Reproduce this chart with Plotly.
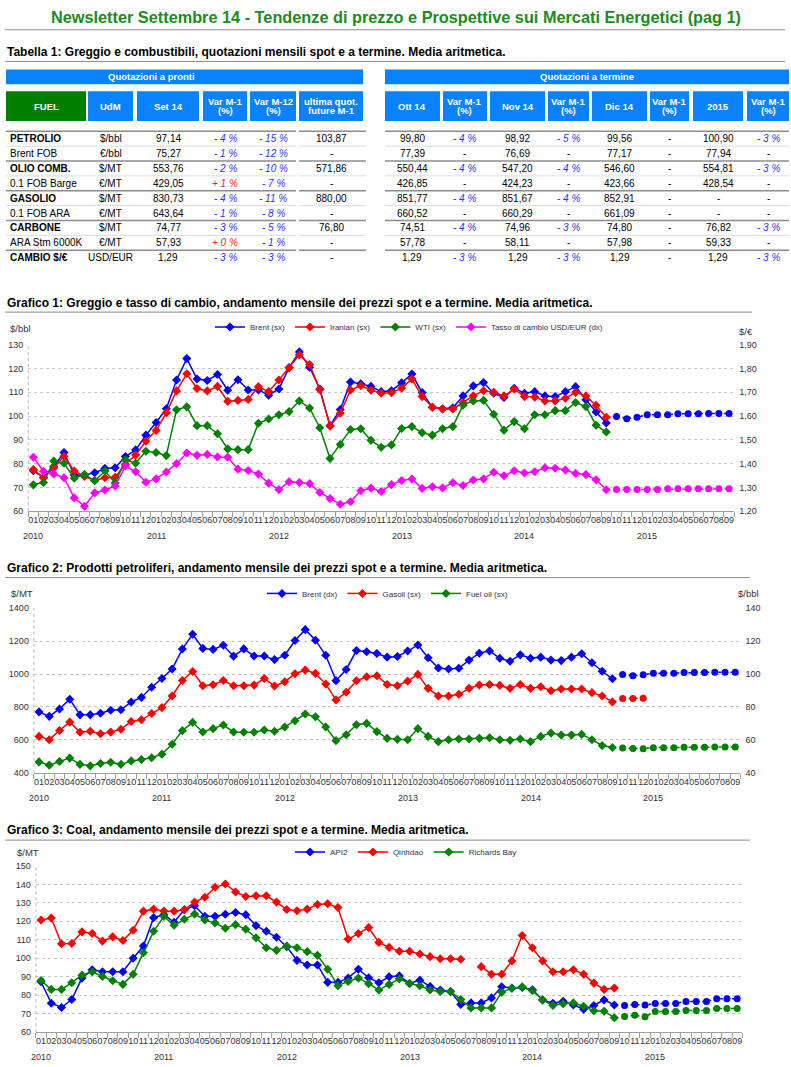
import plotly.graph_objects as go

# ---------------- data ----------------
months = [f"{y}-{m:02d}" for y in range(2010, 2016) for m in range(1, 13)][:69]
spot_months = months[:57]
fwd_months = months[57:]
month_labels = [m[5:] for m in months]
years = ["2010", "2011", "2012", "2013", "2014", "2015"]

# Grafico 1 ($/bbl, left) and exchange rate (right)
brent_spot = [77.0, 74.3, 78.8, 84.7, 75.2, 75.2, 76.2, 78.0, 78.3, 83.0, 85.8, 92.0,
              97.3, 103.1, 115.2, 124.2, 115.6, 115.0, 117.5, 110.9, 115.3, 111.0, 111.0, 108.8,
              111.4, 120.4, 127.0, 120.6, 111.4, 96.0, 102.8, 114.3, 113.6, 112.5, 110.3, 110.7,
              114.0, 117.7, 109.9, 103.7, 103.1, 103.5, 108.5, 112.7, 114.1, 109.6, 107.8, 111.7,
              109.6, 110.3, 108.5, 108.2, 110.3, 112.4, 106.9, 101.7, 97.14]
brent_fwd = [99.80, 98.92, 99.56, 100.55, 100.55, 100.55, 101.0, 101.0, 101.0, 101.15, 101.15, 101.15]
iranian_spot = [77.5, 74.0, 78.2, 83.1, 76.9, 74.6, 72.9, 74.1, 74.3, 79.8, 83.6, 89.4,
                94.0, 101.4, 110.6, 117.8, 111.6, 110.6, 112.5, 106.2, 106.6, 107.0, 112.4, 110.3,
                115.2, 120.3, 125.8, 121.7, 111.1, 95.8, 101.2, 111.0, 112.8, 110.9, 109.6, 109.8,
                111.7, 115.6, 108.2, 103.7, 103.0, 103.0, 105.7, 108.5, 110.7, 110.0, 108.5, 111.3,
                108.2, 108.0, 106.4, 106.4, 107.5, 110.0, 108.5, 104.5, 99.5]
wti_spot = [71.1, 72.1, 81.1, 80.2, 73.9, 75.4, 72.8, 76.9, 71.9, 81.6, 80.2, 85.2,
            84.7, 83.4, 102.7, 103.9, 96.0, 96.0, 92.6, 86.2, 85.9, 85.9, 97.0, 98.8,
            100.6, 101.9, 106.4, 103.4, 95.1, 82.2, 88.1, 94.4, 94.7, 89.8, 86.9, 87.9,
            94.8, 95.6, 93.0, 92.0, 94.7, 95.6, 104.6, 106.4, 106.6, 100.8, 94.1, 97.7,
            94.7, 100.6, 100.6, 102.3, 102.3, 105.7, 104.0, 96.2, 93.3]
usdeur_spot = [1.427, 1.368, 1.357, 1.341, 1.256, 1.221, 1.277, 1.289, 1.306, 1.390, 1.366, 1.322,
               1.336, 1.365, 1.400, 1.445, 1.435, 1.439, 1.428, 1.427, 1.377, 1.371, 1.356, 1.318,
               1.291, 1.324, 1.321, 1.316, 1.279, 1.253, 1.229, 1.240, 1.286, 1.297, 1.283, 1.312,
               1.329, 1.335, 1.296, 1.303, 1.298, 1.320, 1.308, 1.331, 1.336, 1.364, 1.349, 1.370,
               1.361, 1.366, 1.383, 1.381, 1.373, 1.359, 1.354, 1.332, 1.290]
usdeur_fwd = [1.291, 1.291, 1.291, 1.291, 1.291, 1.294, 1.294, 1.294, 1.294, 1.294, 1.294, 1.294]

# Grafico 2 ($/MT)
gasoil_spot = [621, 601, 657, 708, 646, 652, 637, 647, 664, 712, 722, 760,
               796, 867, 961, 1016, 929, 935, 961, 929, 929, 933, 973, 927,
               953, 1002, 1024, 1004, 939, 843, 889, 959, 984, 990, 937, 929,
               957, 998, 913, 867, 867, 877, 913, 933, 937, 931, 913, 937,
               913, 923, 899, 909, 909, 909, 887, 867, 830.73]
gasoil_fwd = [851.77, 851.67, 852.91]
fueloil_spot = [466, 446, 468, 489, 451, 442, 456, 464, 451, 472, 480, 491,
                513, 573, 656, 706, 648, 668, 690, 648, 646, 646, 660, 652,
                678, 716, 757, 740, 678, 595, 631, 692, 700, 650, 609, 603,
                601, 668, 621, 589, 601, 605, 605, 609, 613, 601, 597, 605,
                589, 621, 641, 629, 629, 633, 601, 565, 553.76]
fueloil_fwd = [550.44, 547.20, 546.60, 552.5, 552.5, 552.5, 555.0, 555.0, 555.0, 557.0, 557.0, 557.0]

# Grafico 3 coal ($/MT)
api2_spot = [87.3, 75.7, 73.4, 77.7, 89.3, 93.8, 92.7, 92.7, 92.7, 100.0, 106.6, 122.0,
             123.6, 119.5, 126.3, 128.4, 122.7, 122.7, 123.8, 124.8, 123.6, 117.7, 114.6, 111.4,
             106.3, 98.9, 96.4, 96.4, 87.0, 87.0, 89.3, 94.1, 89.5, 86.8, 90.0, 90.5,
             86.4, 88.2, 84.8, 82.9, 82.0, 75.0, 75.9, 75.9, 78.6, 84.6, 83.9, 84.2,
             83.0, 77.5, 75.7, 76.8, 74.8, 72.5, 74.5, 77.5, 74.77]
api2_fwd = [74.51, 74.96, 74.80, 75.6, 75.6, 75.6, 76.7, 76.7, 76.7, 78.1, 78.1, 78.1]
qinhdao_spot = [120.7, 121.8, 107.9, 108.0, 114.3, 113.4, 109.3, 111.6, 109.6, 115.2, 125.5, 126.6,
                125.5, 125.5, 126.3, 130.4, 133.0, 138.4, 140.2, 135.9, 133.4, 133.8, 133.8, 130.4,
                126.4, 125.7, 126.6, 129.1, 129.5, 127.5, 110.4, 113.4, 116.6, 108.6, 105.9, 103.8,
                103.8, 102.3, 100.9, 99.8, 99.8, 99.5, None, 95.5, 91.4, 91.4, 98.6, 112.3,
                105.7, 98.6, 92.7, 92.7, 93.8, 91.4, 86.6, 83.2, 83.9]
richards_spot = [88.0, 83.2, 83.2, 86.8, 90.9, 92.7, 90.2, 87.9, 85.9, 91.4, 103.0, 114.6,
                 122.7, 117.9, 121.1, 123.9, 120.7, 119.1, 116.3, 118.2, 115.7, 111.1, 105.7, 104.3,
                 106.6, 105.7, 103.6, 101.6, 94.1, 85.2, 87.5, 89.3, 86.3, 82.9, 85.9, 88.9,
                 86.4, 85.2, 82.9, 82.1, 82.0, 77.7, 73.2, 73.2, 73.2, 81.6, 83.8, 84.6,
                 82.5, 77.5, 74.5, 75.4, 75.9, 74.1, 71.6, 71.4, 67.9]
richards_fwd = [68.6, 69.2, 68.4, 71.2, 71.2, 71.2, 71.8, 71.8, 71.8, 72.9, 72.9, 72.9]

# Tabella 1
fuel_labels = ["PETROLIO", "Brent FOB", "OLIO COMB.", "0.1 FOB Barge", "GASOLIO",
               "0.1 FOB ARA", "CARBONE", "ARA Stm 6000K", "CAMBIO $/€"]
fuel_bold = [True, False, True, False, True, False, True, False, True]
udm = ["$/bbl", "€/bbl", "$/MT", "€/MT", "$/MT", "€/MT", "$/MT", "€/MT", "USD/EUR"]
set14 = ["97,14", "75,27", "553,76", "429,05", "830,73", "643,64", "74,77", "57,93", "1,29"]
var_m1 = ["- 4 %", "- 1 %", "- 2 %", "+ 1 %", "- 4 %", "- 1 %", "- 3 %", "+ 0 %", "- 3 %"]
var_m12 = ["- 15 %", "- 12 %", "- 10 %", "- 7 %", "- 11 %", "- 8 %", "- 5 %", "- 1 %", "- 3 %"]
ultima_fut = ["103,87", "-", "571,86", "-", "880,00", "-", "76,80", "-", "-"]
ott14 = ["99,80", "77,39", "550,44", "426,85", "851,77", "660,52", "74,51", "57,78", "1,29"]
var_ott = ["- 4 %", "-", "- 4 %", "-", "- 4 %", "-", "- 4 %", "-", "- 3 %"]
nov14 = ["98,92", "76,69", "547,20", "424,23", "851,67", "660,29", "74,96", "58,11", "1,29"]
var_nov = ["- 5 %", "-", "- 4 %", "-", "- 4 %", "-", "- 3 %", "-", "- 3 %"]
dic14 = ["99,56", "77,17", "546,60", "423,66", "852,91", "661,09", "74,80", "57,98", "1,29"]
var_dic = ["-", "-", "-", "-", "-", "-", "-", "-", "-"]
y2015 = ["100,90", "77,94", "554,81", "428,54", "-", "-", "76,82", "59,33", "1,29"]
var_2015 = ["- 3 %", "-", "- 3 %", "-", "-", "-", "- 3 %", "-", "- 3 %"]

left_head = ["FUEL", "UdM", "Set 14", "Var M-1\n(%)", "Var M-12\n(%)", "ultima quot.\nfuture M-1"]
right_head = ["Ott 14", "Var M-1\n(%)", "Nov 14", "Var M-1\n(%)", "Dic 14", "Var M-1\n(%)", "2015", "Var M-1\n(%)"]

# ---------------- layout helpers ----------------
W, H = 791, 1067
FONT = "Liberation Sans, Arial, sans-serif"
HDR_BLUE = "#0a82ff"
HDR_GREEN = "#008000"
BLUE, RED, GREEN, MAGENTA = "#0000ff", "#ff0000", "#008000", "#ff00ff"


def xp(x):
    return x / W


def yp(y):
    return 1 - y / H


fig = go.Figure()
shapes = []
annotations = []


def text(x, y, s, size=10, color="black", bold=False, italic=False, anchor="center"):
    if bold:
        s = f"<b>{s}</b>"
    if italic:
        s = f"<i>{s}</i>"
    annotations.append(dict(x=xp(x), y=yp(y), xref="paper", yref="paper", text=s,
                            showarrow=False, xanchor=anchor, yanchor="middle",
                            font=dict(family=FONT, size=size, color=color)))


def hline(x0, x1, y, color="#8c8c8c", width=1):
    shapes.append(dict(type="line", xref="paper", yref="paper", x0=xp(x0), x1=xp(x1),
                       y0=yp(y), y1=yp(y), line=dict(color=color, width=width)))


def box(x0, x1, y0, y1, color):
    shapes.append(dict(type="rect", xref="paper", yref="paper", x0=xp(x0), x1=xp(x1),
                       y0=yp(y1), y1=yp(y0), fillcolor=color, line=dict(width=0), layer="below"))


# ---------------- titles ----------------
text(396, 12, "Newsletter Settembre 14 - Tendenze di prezzo e Prospettive sui Mercati Energetici (pag 1)",
     size=16.3, color="#1a8c1a", bold=True)
hline(5, 785, 25, "#8c8c8c", 1)
text(5, 47, "Tabella 1: Greggio e combustibili, quotazioni mensili spot e a termine. Media aritmetica.",
     size=12, bold=True, anchor="left")
hline(5, 785, 57, "#8c8c8c", 1)

# ---------------- table ----------------
left_edges = [(6, 86), (88, 133), (137, 199), (203, 247), (250, 296), (299, 363)]
right_edges = [(385, 440), (443, 487), (490, 545), (548, 589), (592, 647), (650, 689), (693, 743), (747, 789)]

box(6, 363, 65, 80, HDR_BLUE)
box(385, 789, 65, 80, HDR_BLUE)
text(151, 72.5, "Quotazioni a pronti", size=9.5, color="white", bold=True)
text(587, 72.5, "Quotazioni a termine", size=9.5, color="white", bold=True)


def header_cells(edges, labels, first_green=False):
    for i, ((a, b), lab) in enumerate(zip(edges, labels)):
        box(a, b, 87, 117, HDR_GREEN if (first_green and i == 0) else HDR_BLUE)
        lines = lab.split("\n")
        for k, ln in enumerate(lines):
            yy = 102 + (k - (len(lines) - 1) / 2) * 10
            text((a + b) / 2, yy, ln, size=9.5, color="white", bold=True)


header_cells(left_edges, left_head, first_green=True)
header_cells(right_edges, right_head)

ROW0, ROWH = 135, 15
for r in range(len(fuel_labels)):
    ytop = ROW0 + ROWH * r - 7.5
    if r % 2 == 0:
        col, wd = "#8c8c8c", 1.5
    else:
        col, wd = "#dcdcdc", 1
    hline(6, 296, ytop, col, wd)
    hline(299, 366, ytop, col, wd)
    hline(385, 789, ytop, col, wd)


def var_cell(x, y, s):
    if s == "-":
        text(x, y, s, size=10)
    elif s.startswith("+"):
        text(x, y, s, size=10, color="#ff2020", italic=True)
    else:
        text(x, y, s, size=10, color="#3030ff", italic=True)


left_cols = [udm, set14, var_m1, var_m12, ultima_fut]
left_var = [False, False, True, True, False]
right_cols = [ott14, var_ott, nov14, var_nov, dic14, var_dic, y2015, var_2015]
right_var = [False, True, False, True, False, True, False, True]

for r in range(len(fuel_labels)):
    y = ROW0 + ROWH * r
    text(8, y, fuel_labels[r], size=10, bold=fuel_bold[r], anchor="left")
    for (a, b), col, isvar in zip(left_edges[1:], left_cols, left_var):
        if isvar:
            var_cell((a + b) / 2, y, col[r])
        else:
            text((a + b) / 2, y, col[r], size=10)
    for (a, b), col, isvar in zip(right_edges, right_cols, right_var):
        if isvar:
            var_cell((a + b) / 2, y, col[r])
        else:
            text((a + b) / 2, y, col[r], size=10)

# ---------------- chart titles ----------------
text(5, 301, "Grafico 1: Greggio e tasso di cambio, andamento mensile dei prezzi spot e a termine. Media aritmetica.",
     size=12, bold=True, anchor="left")
hline(5, 752, 310, "#8c8c8c", 1)
text(5, 568, "Grafico 2: Prodotti petroliferi, andamento mensile dei prezzi spot e a termine. Media aritmetica.",
     size=12, bold=True, anchor="left")
hline(5, 750, 578, "#8c8c8c", 1)
text(5, 833, "Grafico 3: Coal, andamento mensile dei prezzi spot e a termine. Media aritmetica.",
     size=12, bold=True, anchor="left")
hline(5, 750, 843, "#8c8c8c", 1)

text(20, 327, "$/bbl", size=9.5, color="#333333")
text(746, 330, "$/€", size=9.5, color="#333333")
text(22, 594, "$/MT", size=9.5, color="#333333")
text(748, 594, "$/bbl", size=9.5, color="#333333")
text(28, 856, "$/MT", size=9.5, color="#333333")


# ---------------- traces ----------------
def spot(x, y, name, color, xa, ya, legend, rank=1000):
    return go.Scatter(x=x, y=y, name=name, mode="lines+markers", xaxis=xa, yaxis=ya,
                      legend=legend, legendrank=rank, line=dict(color=color, width=1.5),
                      marker=dict(symbol="diamond", size=7, color=color), connectgaps=False)


def fwd(x, y, color, xa, ya):
    return go.Scatter(x=x, y=y, mode="lines+markers", xaxis=xa, yaxis=ya, showlegend=False,
                      line=dict(color=color, width=1.5, dash="3px,3px"),
                      marker=dict(symbol="circle", size=7, color=color))


fig.add_trace(spot(spot_months, brent_spot, "Brent (sx)", BLUE, "x", "y", "legend"))
fig.add_trace(spot(spot_months, iranian_spot, "Iranian (sx)", RED, "x", "y", "legend"))
fig.add_trace(spot(spot_months, wti_spot, "WTI (sx)", GREEN, "x", "y", "legend"))
fig.add_trace(fwd(fwd_months, brent_fwd, BLUE, "x", "y"))
fig.add_trace(spot(spot_months, usdeur_spot, "Tasso di cambio USD/EUR (dx)", MAGENTA, "x", "y2", "legend"))
fig.add_trace(fwd(fwd_months, usdeur_fwd, MAGENTA, "x", "y2"))

fig.add_trace(spot(spot_months, gasoil_spot, "Gasoil (sx)", RED, "x2", "y3", "legend2", 2))
fig.add_trace(spot(spot_months, fueloil_spot, "Fuel oil (sx)", GREEN, "x2", "y3", "legend2", 3))
fig.add_trace(fwd(fwd_months[:3], gasoil_fwd, RED, "x2", "y3"))
fig.add_trace(fwd(fwd_months, fueloil_fwd, GREEN, "x2", "y3"))
fig.add_trace(spot(spot_months, brent_spot, "Brent (dx)", BLUE, "x2", "y4", "legend2", 1))
fig.add_trace(fwd(fwd_months, brent_fwd, BLUE, "x2", "y4"))

fig.add_trace(spot(spot_months, api2_spot, "API2", BLUE, "x3", "y5", "legend3"))
fig.add_trace(spot(spot_months, qinhdao_spot, "Qinhdao", RED, "x3", "y5", "legend3"))
fig.add_trace(spot(spot_months, richards_spot, "Richards Bay", GREEN, "x3", "y5", "legend3"))
fig.add_trace(fwd(fwd_months, api2_fwd, BLUE, "x3", "y5"))
fig.add_trace(fwd(fwd_months, richards_fwd, GREEN, "x3", "y5"))

# ---------------- axes ----------------
TICKFONT = dict(family=FONT, size=9, color="#333333")


def xaxis(x0, x1, anchor):
    return dict(domain=[xp(x0), xp(x1)], anchor=anchor, type="category",
                categoryorder="array", categoryarray=months, range=[-0.5, len(months) - 0.5],
                tickmode="array", tickvals=months, ticktext=month_labels, tickangle=0,
                ticks="outside", tickson="boundaries", ticklen=5, tickcolor="#a0a0a0",
                showline=True, linecolor="#a0a0a0", linewidth=1, showgrid=False,
                zeroline=False, tickfont=TICKFONT, fixedrange=True)


def yaxis(top, bottom, rng, dtick, anchor, grid=True, **kw):
    d = dict(domain=[yp(bottom), yp(top)], anchor=anchor, range=rng, dtick=dtick, tick0=rng[0],
             showgrid=grid, gridcolor="#c8c8c8", griddash="dot", gridwidth=1, zeroline=False,
             showline=False, ticks="", tickfont=TICKFONT, ticklabelstandoff=4, fixedrange=True)
    d.update(kw)
    return d


C1 = (28.2, 734.2, 343, 511)
C2 = (33.9, 740.4, 609, 775)
C3 = (35.9, 742.3, 869, 1037)

layout_axes = dict(
    xaxis=xaxis(C1[0], C1[1], "y"),
    yaxis=yaxis(C1[2], C1[3], [60, 130], 10, "x"),
    yaxis2=yaxis(C1[2], C1[3], [1.2, 1.9], 0.1, "x", grid=False, overlaying="y", side="right",
                 tickformat=".2f"),
    xaxis2=xaxis(C2[0], C2[1], "y3"),
    yaxis3=yaxis(C2[2], C2[3], [400, 1400], 200, "x2"),
    yaxis4=yaxis(C2[2], C2[3], [40, 140], 20, "x2", grid=False, overlaying="y3", side="right"),
    xaxis3=xaxis(C3[0], C3[1], "y5"),
    yaxis5=yaxis(C3[2], C3[3], [60, 150], 10, "x3"),
)

# year labels under the January ticks, dotted left axis lines
for xa, ya, ybase in [("x", "y", 536), ("x2", "y3", 800), ("x3", "y5", 1062)]:
    for yr in years:
        annotations.append(dict(x=f"{yr}-01", y=yp(ybase), xref=xa, yref="paper", text=yr,
                                showarrow=False, xanchor="center", yanchor="middle",
                                font=TICKFONT))
    shapes.append(dict(type="line", xref=f"{xa} domain", yref=f"{ya} domain", x0=0, x1=0, y0=0, y1=1,
                       line=dict(color="#b4b4b4", width=1, dash="dot")))

LEGFONT = dict(family=FONT, size=8, color="#333344")


def legend(x, y):
    return dict(x=xp(x), y=yp(y), xref="paper", yref="paper", xanchor="left", yanchor="middle",
                orientation="h", font=LEGFONT, bgcolor="rgba(0,0,0,0)", itemwidth=30,
                tracegroupgap=0, traceorder="normal")


fig.update_layout(
    width=W, height=H, margin=dict(l=0, r=0, t=0, b=0),
    paper_bgcolor="white", plot_bgcolor="white",
    separators=",.", showlegend=True,
    font=dict(family=FONT, size=10, color="black"),
    legend=legend(210, 325), legend2=legend(262, 594), legend3=legend(290, 855),
    shapes=shapes, annotations=annotations,
    **layout_axes,
)

fig.write_html("out.html", config={"displayModeBar": False},
               post_script="document.body.style.margin='0';document.body.style.overflow='hidden';")
